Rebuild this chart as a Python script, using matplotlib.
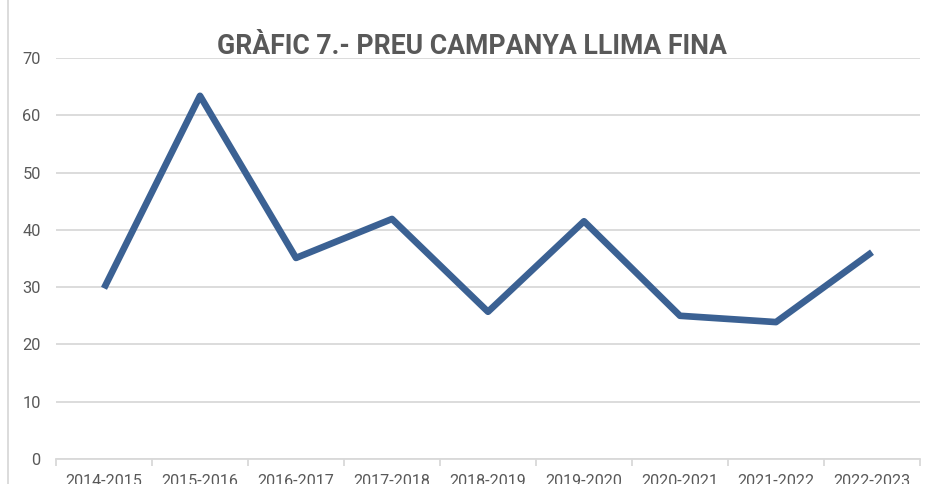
import matplotlib.pyplot as plt
from matplotlib.lines import Line2D

plt.rcParams['font.family'] = ['Roboto', 'DejaVu Sans']

# Dades
campanyes = ["2014-2015", "2015-2016", "2016-2017", "2017-2018", "2018-2019",
             "2019-2020", "2020-2021", "2021-2022", "2022-2023"]
preu = [29.8, 63.4, 35.1, 41.9, 25.7, 41.5, 25.0, 23.9, 36.1]

fig = plt.figure(figsize=(9.25, 4.84), dpi=100)
ax = fig.add_axes([56 / 925, 25 / 484, (920 - 56) / 925, (459 - 58) / 484])

x = list(range(len(campanyes)))
ax.plot(x, preu, color="#3B6193", linewidth=4.8, solid_joinstyle="round",
        solid_capstyle="butt", zorder=3)

ax.set_xlim(-0.5, len(campanyes) - 0.5)
ax.set_ylim(0, 70)
ax.set_yticks(range(0, 71, 10))
ax.grid(axis="y", color="#d9d9d9", linewidth=1.3)
ax.set_axisbelow(True)

ax.set_xticks(x)
ax.set_xticklabels(campanyes)
ax.set_xticks([i - 0.5 for i in range(len(campanyes) + 1)], minor=True)
ax.tick_params(axis="x", which="major", length=0, pad=11, labelsize=11.6,
               labelcolor="#595959")
ax.tick_params(axis="x", which="minor", length=5, color="#d9d9d9", width=1.3)
ax.tick_params(axis="y", length=0, pad=11, labelsize=11.8, labelcolor="#595959")

for s in ["top", "right", "left"]:
    ax.spines[s].set_visible(False)
ax.spines["bottom"].set_color("#d9d9d9")
ax.spines["bottom"].set_linewidth(1.3)

fig.text(472 / 925, 1 - 47 / 484, "GRÀFIC 7.- PREU CAMPANYA LLIMA FINA",
         ha="center", va="center", fontsize=19.2, fontweight="bold",
         color="#595959")

# Vora del gràfic
fig.add_artist(Line2D([8 / 925, 8 / 925], [0, 1], color="#d9d9d9", linewidth=1.3))

plt.savefig("out.png", dpi=100)
plt.close()
